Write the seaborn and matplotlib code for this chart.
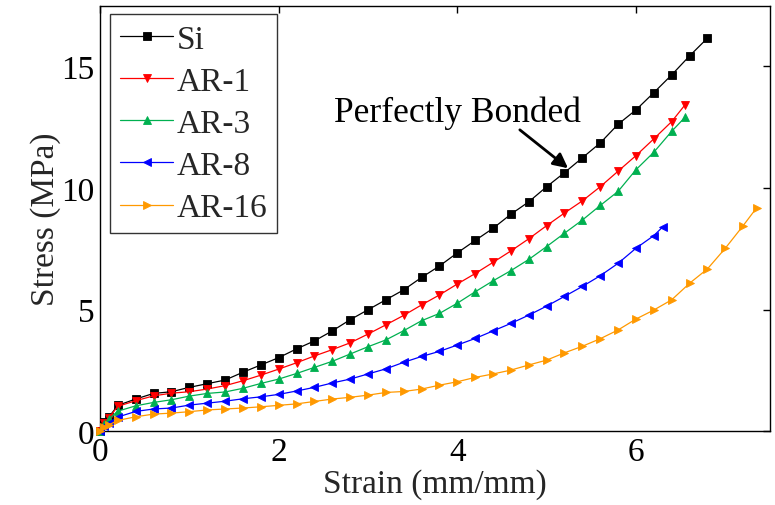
import numpy as np
import pandas as pd
import matplotlib
matplotlib.use("Agg")
import matplotlib.pyplot as plt
import seaborn as sns

# ---- data ----
x_common = [0, 0.05, 0.1, 0.2, 0.4, 0.6, 0.8, 1.0, 1.2, 1.4, 1.6, 1.8, 2.0,
            2.2, 2.4, 2.6, 2.8, 3.0, 3.2, 3.4, 3.6, 3.8, 4.0, 4.2, 4.4, 4.6,
            4.8, 5.0, 5.2, 5.4, 5.6, 5.8, 6.0, 6.2, 6.4, 6.6, 6.8, 7.0, 7.2]

si_x = x_common[:37]
si_y = [0, 0.38, 0.58, 1.06, 1.32, 1.55, 1.62, 1.80, 1.95, 2.10, 2.42, 2.72,
        3.02, 3.38, 3.71, 4.12, 4.58, 4.99, 5.40, 5.81, 6.32, 6.79, 7.33,
        7.84, 8.34, 8.92, 9.43, 10.05, 10.63, 11.24, 11.85, 12.62, 13.21,
        13.92, 14.65, 15.43, 16.16]

ar1_x = x_common[:35] + [6.55]
ar1_y = [0, 0.35, 0.55, 1.02, 1.25, 1.45, 1.56, 1.62, 1.73, 1.87, 2.07, 2.30,
         2.55, 2.81, 3.09, 3.35, 3.63, 3.99, 4.37, 4.76, 5.19, 5.60, 6.05,
         6.48, 6.94, 7.41, 7.91, 8.45, 8.97, 9.47, 10.05, 10.69, 11.33,
         12.02, 12.73, 13.42]

ar3_x = x_common[:35] + [6.55]
ar3_y = [0, 0.30, 0.50, 0.82, 1.04, 1.18, 1.29, 1.44, 1.55, 1.61, 1.76, 1.96,
         2.14, 2.37, 2.62, 2.87, 3.17, 3.47, 3.75, 4.13, 4.54, 4.84, 5.26,
         5.73, 6.18, 6.60, 7.06, 7.59, 8.14, 8.68, 9.28, 9.86, 10.75, 11.47,
         12.33, 12.91]

ar8_x = x_common[:34] + [6.3]
ar8_y = [0, 0.22, 0.32, 0.58, 0.81, 0.91, 0.95, 1.07, 1.15, 1.23, 1.33, 1.41,
         1.51, 1.65, 1.80, 1.98, 2.14, 2.35, 2.56, 2.83, 3.07, 3.28, 3.54,
         3.81, 4.12, 4.43, 4.77, 5.14, 5.54, 5.95, 6.39, 6.90, 7.52, 8.04,
         8.40]

ar16_x = x_common + [7.35]
ar16_y = [0, 0.15, 0.26, 0.44, 0.59, 0.70, 0.74, 0.80, 0.87, 0.91, 0.95, 1.00,
          1.06, 1.12, 1.22, 1.32, 1.39, 1.48, 1.59, 1.63, 1.73, 1.89, 2.03,
          2.21, 2.35, 2.51, 2.72, 2.92, 3.22, 3.49, 3.80, 4.16, 4.61, 4.98,
          5.40, 6.08, 6.67, 7.52, 8.45, 9.18]

series_names = ["Si", "AR-1", "AR-3", "AR-8", "AR-16"]
series_x = [si_x, ar1_x, ar3_x, ar8_x, ar16_x]
series_y = [si_y, ar1_y, ar3_y, ar8_y, ar16_y]
colors = ["#000000", "#FF0000", "#00B050", "#0000FF", "#FF9900"]
markers = ["s", "v", "^", "<", ">"]

x_ticks = [0, 2, 4, 6]
y_ticks = [0, 5, 10, 15]

# ---- plot ----
sns.set_theme(style="white")
plt.rcParams["font.family"] = ["Liberation Serif", "DejaVu Serif"]
plt.rcParams["mathtext.fontset"] = "stix"

fig = plt.figure(figsize=(7.75, 5.06), dpi=100)
ax = fig.add_axes([0.129, 0.146, 0.8645, 0.841])

for name, xs, ys, c, m in zip(series_names, series_x, series_y, colors, markers):
    df = pd.DataFrame({"x": xs, "y": ys})
    sns.lineplot(data=df, x="x", y="y", ax=ax, color=c, marker=m,
                 markersize=5.8, markeredgecolor=c, markeredgewidth=0.6,
                 linewidth=0.9, label=name, sort=False, estimator=None,
                 clip_on=False)

ax.set_xlim(0, 7.5)
ax.set_ylim(0, 17.5)
ax.set_xticks(x_ticks)
ax.set_yticks(y_ticks)
ax.tick_params(axis="both", which="both", direction="in", length=5, width=1,
               top=True, right=True, labelsize=24, pad=4, colors="black")
for sp in ax.spines.values():
    sp.set_visible(True)
    sp.set_color("black")
    sp.set_linewidth(1.0)
    sp.set_zorder(1)

ax.set_xlabel("Strain (mm/mm)", fontsize=24, labelpad=1)
ax.set_ylabel("Stress (MPa)", fontsize=24, labelpad=0)

leg = ax.legend(loc="upper left", bbox_to_anchor=(0.015, 0.98), borderaxespad=0,
                fontsize=24, frameon=True, fancybox=False, edgecolor="black",
                handlelength=1.6, handletextpad=0.1, labelspacing=0.35,
                borderpad=0.3)
leg.get_frame().set_linewidth(1.0)

ax.annotate("", xy=(5.24, 10.81), xytext=(4.70, 12.39),
            arrowprops=dict(arrowstyle="-|>", color="black", lw=2,
                            mutation_scale=22, shrinkA=0, shrinkB=0))
ax.text(4.0, 12.77, "Perfectly Bonded", fontsize=25.5, ha="center",
        va="baseline", color="black")

fig.savefig("out.png", dpi=100)
